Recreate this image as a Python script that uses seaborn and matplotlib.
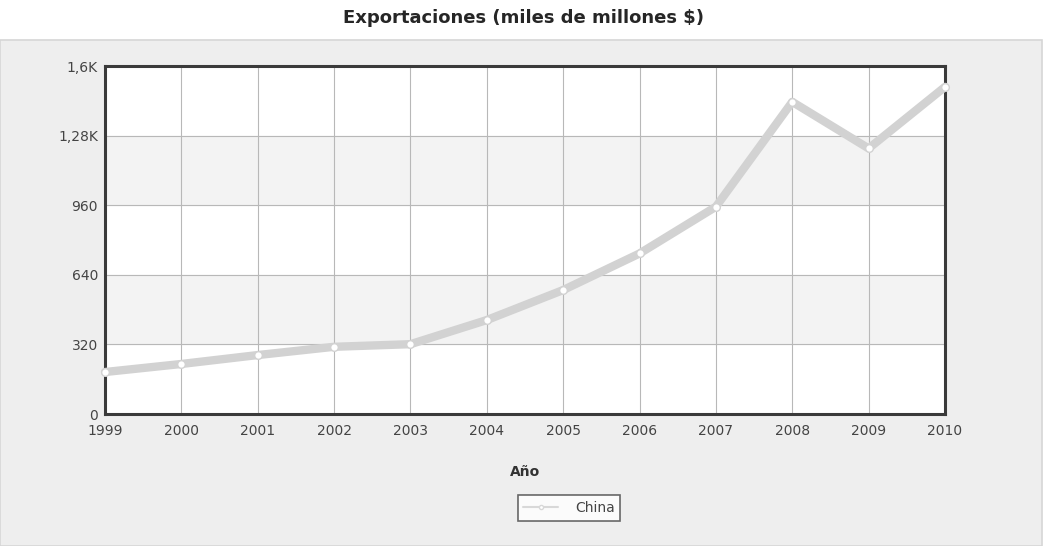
import matplotlib
matplotlib.use("Agg")
import matplotlib.pyplot as plt
from matplotlib.patches import Rectangle
from matplotlib.lines import Line2D
import pandas as pd
import seaborn as sns

years = [1999, 2000, 2001, 2002, 2003, 2004, 2005, 2006, 2007, 2008, 2009, 2010]
china = [193, 230, 271, 309, 321, 432, 570, 738, 953, 1435, 1221, 1504]
y_ticks = [0, 320, 640, 960, 1280, 1600]
y_tick_labels = ["0", "320", "640", "960", "1,28K", "1,6K"]

df = pd.DataFrame({"Año": years, "China": china})

sns.set_style("white")
plt.rcParams["font.family"] = ["DejaVu Sans"]

fig = plt.figure(figsize=(10.47, 5.46), dpi=100)
fig.patch.set_facecolor("white")
# outer grey panel behind the chart
fig.patches.append(Rectangle((0.0, 0.0), 0.995, 1 - 40 / 546, transform=fig.transFigure,
                             facecolor="#eeeeee", edgecolor="#d6d6d6", lw=1.2, zorder=-5))

ax = fig.add_axes([105 / 1047, 1 - 414 / 546, 840 / 1047, 348 / 546])
ax.set_zorder(2)
ax.set_facecolor("white")
for lo, hi in [(320, 640), (960, 1280)]:
    ax.axhspan(lo, hi, color="#f3f3f3", zorder=0)

sns.lineplot(data=df, x="Año", y="China", ax=ax, color="#d2d2d2", linewidth=6,
             marker="o", markersize=5.5, markerfacecolor="white", markeredgecolor="#d2d2d2",
             markeredgewidth=1.0, legend=False, clip_on=False, zorder=3)

ax.set_xlim(years[0], years[-1])
ax.set_ylim(0, 1600)
ax.set_xticks(years)
ax.set_xticklabels([str(y) for y in years], fontsize=10, color="#444444")
ax.set_yticks(y_ticks)
ax.set_yticklabels(y_tick_labels, fontsize=10, color="#444444")
ax.tick_params(axis="x", length=0, pad=7)
ax.tick_params(axis="y", length=0, pad=5)
ax.grid(True, color="#b8b8b8", linewidth=0.8)
ax.set_axisbelow(True)
for s in ax.spines.values():
    s.set_visible(True)
    s.set_color("#3a3a3a")
    s.set_linewidth(2.2)

ax.set_xlabel("Año", fontsize=10, fontweight="bold", color="#333333", labelpad=20)
ax.set_ylabel("")

fig.text(0.5, 1 - 18 / 546, "Exportaciones (miles de millones $)", ha="center", va="center",
         fontsize=13, fontweight="bold",
         family=["Liberation Sans Narrow", "DejaVu Sans Condensed", "DejaVu Sans"])

handle = Line2D([], [], color="#d8d8d8", linewidth=1.5, marker="o", markersize=3,
                markerfacecolor="white", markeredgecolor="#d8d8d8")
leg = fig.legend([handle], ["China"], loc="center", bbox_to_anchor=(569 / 1047, 1 - 508 / 546),
                 frameon=True, fancybox=False, fontsize=10, handlelength=2.5,
                 borderpad=0.4, handletextpad=1.2)
leg.get_frame().set_edgecolor("#444444")
leg.get_frame().set_linewidth(1.2)
for t in leg.get_texts():
    t.set_color("#444444")

fig.savefig("out.png", dpi=100)
